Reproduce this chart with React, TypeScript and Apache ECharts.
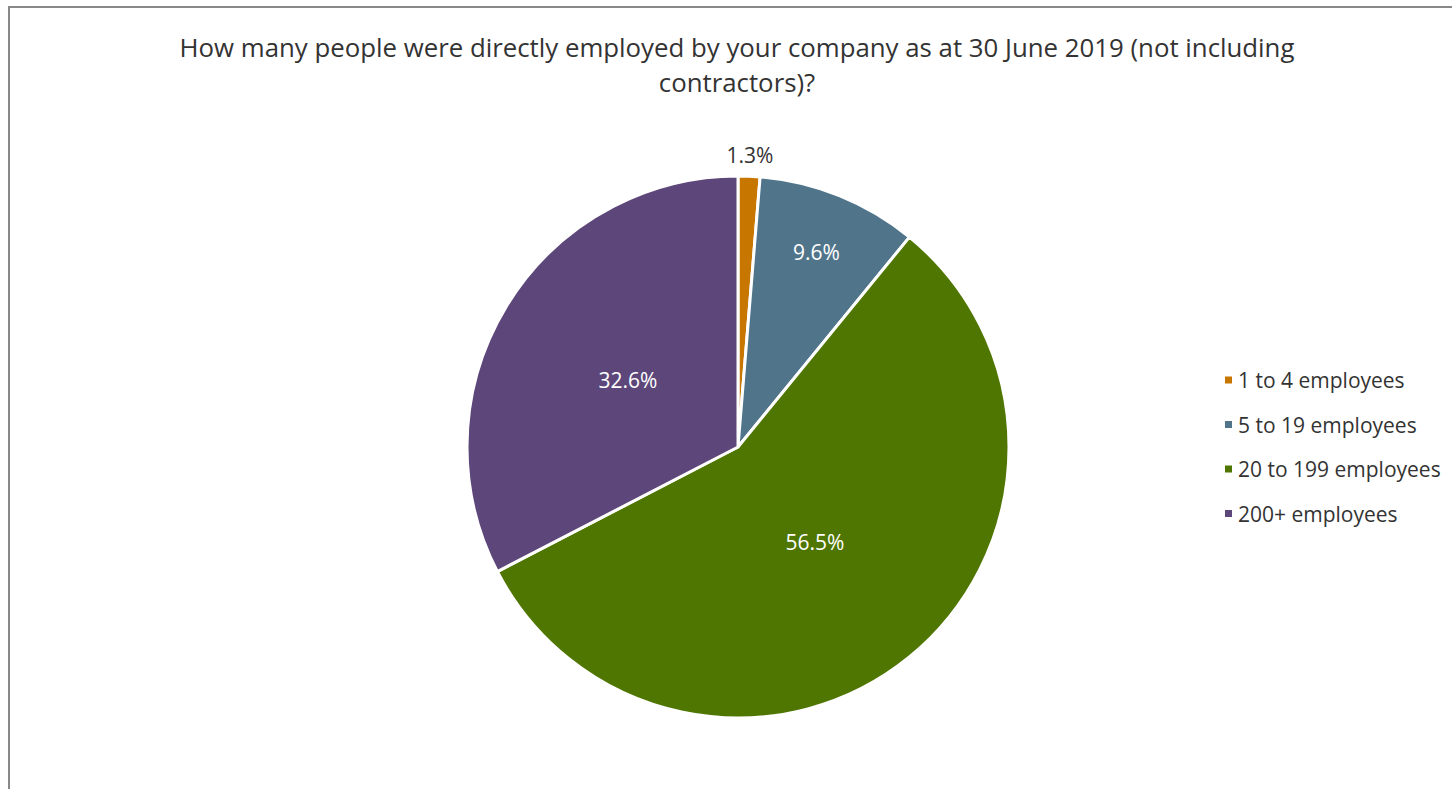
import React, { useEffect, useRef } from "react";
import * as echarts from "echarts";

const titleLines = [
  "How many people were directly employed by your company as at 30 June 2019 (not including",
  "contractors)?",
];
const categories = ["1 to 4 employees", "5 to 19 employees", "20 to 199 employees", "200+ employees"];
const values = [1.3, 9.6, 56.5, 32.6];
const colors = ["#C77600", "#50758A", "#4E7600", "#5D4679"];
const labelRadiusFrac = [1.08, 0.775, 0.45, 0.475];

const CX = 738;
const CY = 447;
const R = 271;
const FONT = "Open Sans";

export default function App() {
  const ref = useRef<HTMLDivElement>(null);
  useEffect(() => {
    if (!ref.current) return;
    const chart = echarts.init(ref.current, null, { renderer: "svg" });
    const total = values.reduce((a, b) => a + b, 0);
    const mids: number[] = [];
    let acc = 0;
    values.forEach((v) => {
      mids.push(((acc + v / 2) / total) * Math.PI * 2);
      acc += v;
    });
    chart.setOption({
      animation: false,
      textStyle: { fontFamily: FONT },
      graphic: [
        {
          type: "rect",
          shape: { x: 9, y: 7, width: 1460, height: 800 },
          style: { fill: "none", stroke: "#888888", lineWidth: 2 },
          silent: true,
        },
      ],
      title: {
        text: titleLines.join("\n"),
        left: CX - 6,
        textAlign: "center",
        top: 24,
        textStyle: { fontFamily: FONT, fontSize: 25.8, fontWeight: "normal", color: "#333333", lineHeight: 35 },
      },
      legend: {
        orient: "vertical",
        left: 1218,
        top: 363,
        icon: "rect",
        itemWidth: 9,
        itemHeight: 9,
        itemGap: 20.5,
        textStyle: { fontFamily: FONT, fontSize: 21, lineHeight: 24, color: "#333333" },
        data: categories,
      },
      series: [
        {
          type: "pie",
          center: [CX, CY],
          radius: R,
          startAngle: 90,
          clockwise: true,
          color: colors,
          itemStyle: { borderColor: "#ffffff", borderWidth: 3 },
          label: {
            show: true,
            position: "inside",
            formatter: (p: any) => p.value.toFixed(1) + "%",
            fontFamily: FONT,
            fontSize: 21,
            color: "#ffffff",
          },
          labelLine: { show: false },
          labelLayout: (p: any) => {
            const i = p.dataIndex;
            const a = mids[i];
            const rr = R * labelRadiusFrac[i];
            return {
              x: CX + rr * Math.sin(a),
              y: CY - rr * Math.cos(a),
              align: "center",
              verticalAlign: "middle",
            };
          },
          data: categories.map((c, i) => ({
            name: c,
            value: values[i],
            label: i === 0 ? { color: "#333333" } : undefined,
          })),
        },
      ],
    });
    return () => chart.dispose();
  }, []);
  return (
    <div
      ref={ref}
      style={{ position: "fixed", left: 0, top: 0, width: 1452, height: 789, background: "#fff" }}
    />
  );
}
